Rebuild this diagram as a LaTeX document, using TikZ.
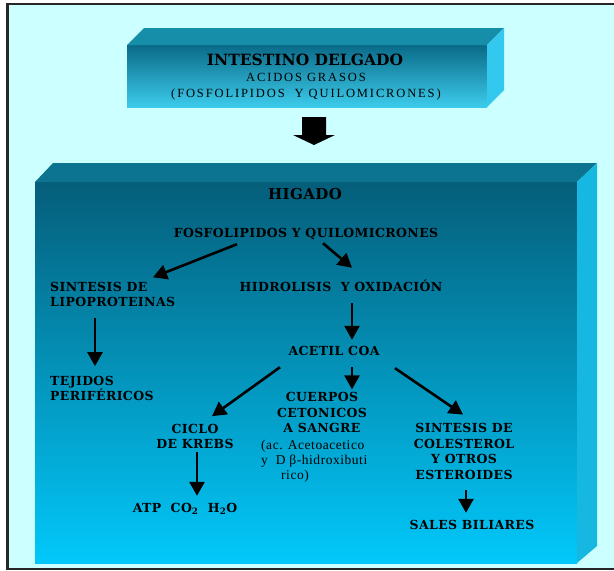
\documentclass[tikz,border=0pt]{standalone}
\usepackage{fontspec}
\setmainfont{Liberation Serif}
\newfontfamily\headfont{DejaVu Serif}
\newfontfamily\lblfont[LetterSpace=3]{DejaVu Serif}
\newfontfamily\thinfont[LetterSpace=15]{Liberation Serif}
\newfontfamily\notefont[LetterSpace=4]{Liberation Serif}
\usetikzlibrary{arrows.meta, calc}

\definecolor{bgcyan}{HTML}{CCFFFF}
\definecolor{deepteal}{HTML}{055E7A}
\definecolor{midteal}{HTML}{0590B6}
\definecolor{brightcyan}{HTML}{02C8FA}
\definecolor{topteal}{HTML}{0C7490}
\definecolor{sideblue}{HTML}{16B8E2}
\definecolor{bartop}{HTML}{168EAA}
\definecolor{barside}{HTML}{33C8EE}
\definecolor{barlow}{HTML}{3CCBEB}
\definecolor{barhigh}{HTML}{0A6A88}

\begin{document}
\begin{tikzpicture}[x=1pt, y=-1pt,
  lbl/.style={font=\lblfont\bfseries\fontsize{12.5}{15.6}\selectfont, inner sep=1pt, align=center},
  one/.style={text height=9pt, text depth=0pt},
  note/.style={font=\notefont\fontsize{13.5}{15}\selectfont, inner sep=1pt, align=left},
  arr/.style={-{Triangle[length=14pt, width=15pt]}, line width=2.6pt},
]
  \useasboundingbox (0,0) rectangle (614,571);
  \fill[white] (0,0) rectangle (614,571);
  \fill[bgcyan] (7.5,3.8) rectangle (614,569);
  \draw[line width=2.5pt, black!85] (614,3.8) -- (7.5,3.8) -- (7.5,569) -- (614,569);

  % intestine bar
  \shade[top color=barhigh, bottom color=barlow] (127,45) rectangle (487,107);
  \fill[bartop]  (127,45) -- (144,28) -- (504,28) -- (487,45) -- cycle;
  \fill[barside] (487,45) -- (504,28) -- (504,90) -- (487,107) -- cycle;

  % liver block
  \shade[top color=deepteal, middle color=midteal, bottom color=brightcyan] (35,182) rectangle (577,563);
  \fill[topteal]  (35,182) -- (53,163) -- (597,163) -- (577,182) -- cycle;
  \fill[sideblue] (577,182) -- (597,163) -- (597,546) -- (577,563) -- cycle;

  \node[inner sep=1pt, font=\headfont\bfseries\fontsize{15.5}{18}\selectfont] (intest) at (305,60) {INTESTINO DELGADO};
  \node[inner sep=1pt, font=\thinfont\fontsize{12.5}{15}\selectfont] (acidos) at (306,77) {ACIDOS GRASOS};
  \node[inner sep=1pt, font=\thinfont\fontsize{12.5}{15}\selectfont] (origen) at (306,94) {(FOSFOLIPIDOS\ \ Y QUILOMICRONES)};

  % block arrow down into the liver
  \coordinate (paso) at (314,117);
  \fill[black] ($(paso)+(-12,0)$) -- ($(paso)+(12,0)$) -- ($(paso)+(12,18)$) -- ($(paso)+(21,18)$)
     -- ($(paso)+(0,28)$) -- ($(paso)+(-21,18)$) -- ($(paso)+(-12,18)$) -- cycle;

  \node[lbl, one, font=\lblfont\bfseries\fontsize{15}{18}\selectfont] (higado) at (305,195) {HIGADO};
  \node[lbl, one] (fosfo) at (306,233) {FOSFOLIPIDOS Y QUILOMICRONES};
  \node[lbl, align=left, anchor=west] (lipo) at (49,294.5) {SINTESIS DE\\LIPOPROTEINAS};
  \node[lbl, one] (hidro) at (341,287) {HIDROLISIS\ \ Y OXIDACIÓN};
  \node[lbl, align=left, anchor=west] (tejidos) at (49,388.5) {TEJIDOS\\PERIFÉRICOS};
  \node[lbl, one] (acetil) at (334,351) {ACETIL COA};
  \node[lbl] (cuerpos) at (322,412.5) {CUERPOS\\CETONICOS\\A SANGRE};
  \node[note, anchor=west] (acidoac) at (260,461) {(ac. Acetoacetico\\y\ \ D β-hidroxibuti\\\hspace*{20pt}rico)};
  \node[lbl] (ciclo) at (195,436.5) {CICLO\\DE KREBS};
  \node[lbl, one] (atp) at (185,508) {ATP\ \ CO\textsubscript{2}\ \ H\textsubscript{2}O};
  \node[lbl] (colest) at (464,451.5) {SINTESIS DE\\COLESTEROL\\Y OTROS\\ESTEROIDES};
  \node[lbl, one] (sales) at (472,525) {SALES BILIARES};

  \draw[arr] ($(fosfo.south)+(-69,5.5)$) -- ($(lipo.north west)+(104,-3.5)$);
  \draw[arr] ($(fosfo.south)+(17,4.5)$) -- ($(hidro.north)+(11,-13.5)$);
  \draw[arr] ($(lipo.south west)+(46,9.6)$) -- ($(tejidos.north west)+(46,-8.6)$);
  \draw[arr] ($(hidro.south)+(11,10.5)$) -- ($(acetil.north)+(18,-5.5)$);
  \draw[arr] ($(acetil.south)+(-54,10.5)$) -- ($(ciclo.north)+(17,-6.6)$);
  \draw[arr] ($(acetil.south)+(18,10.5)$) -- ($(cuerpos.north)+(30,-1.6)$);
  \draw[arr] ($(acetil.south)+(61,11.5)$) -- ($(colest.north)+(-1,-7.6)$);
  \draw[arr] ($(ciclo.south)+(2,1.6)$) -- ($(atp.north)+(12,-6.5)$);
  \draw[arr] ($(colest.south)+(2,9.6)$) -- ($(sales.north)+(-6,-6.5)$);
\end{tikzpicture}
\end{document}
